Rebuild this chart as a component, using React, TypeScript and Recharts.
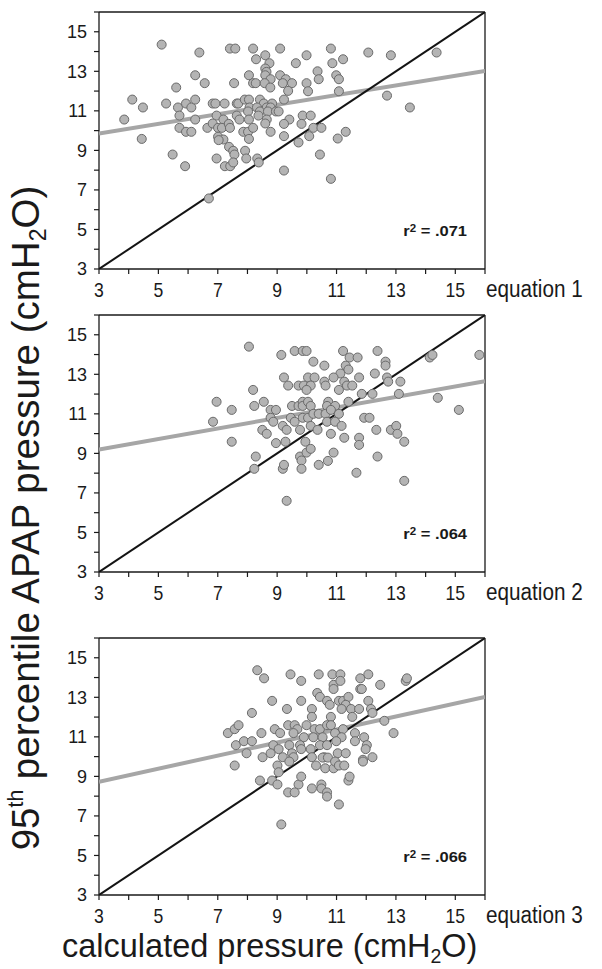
import { Scatter, ScatterChart, XAxis, YAxis } from 'recharts';

// calculated vs 95th percentile APAP pressure, one panel per equation
const AXIS_TICKS = [3, 4, 5, 6, 7, 8, 9, 10, 11, 12, 13, 14, 15, 16];
const AXIS_MIN = 3;
const AXIS_MAX = 16;

const EQ1_POINTS: [number, number][] = [
  [5.11, 14.35], [6.38, 13.95], [7.41, 14.15], [7.59, 14.15], [8.19, 14.15], [9.1, 14.15], [10.81, 14.15],
  [12.07, 13.95], [12.83, 13.81], [14.37, 13.95], [8.6, 13.81], [9.99, 13.81], [8.29, 13.61], [8.74, 13.41],
  [9.63, 13.41], [10.86, 13.41], [11.22, 13.61], [8.6, 13.14], [8.64, 12.97], [6.24, 12.8], [8.05, 12.8],
  [9.1, 12.8], [8.6, 12.8], [10.36, 13.0], [10.99, 12.8], [8.78, 12.6], [9.29, 12.6], [10.4, 12.6],
  [11.08, 12.6], [6.56, 12.4], [7.55, 12.4], [8.19, 12.4], [8.28, 12.4], [8.58, 12.4], [9.19, 12.4],
  [9.5, 12.4], [9.99, 12.4], [8.77, 12.18], [5.6, 12.18], [9.37, 12.01], [10.04, 11.99], [11.08, 11.99],
  [12.7, 11.77], [4.12, 11.57], [4.48, 11.17], [5.26, 11.37], [5.66, 11.17], [5.93, 11.37], [6.11, 11.17],
  [6.24, 11.57], [6.83, 11.37], [6.92, 11.37], [7.23, 11.37], [7.64, 11.37], [7.69, 11.37], [7.91, 11.57],
  [8.05, 11.57], [8.42, 11.57], [8.55, 11.37], [8.83, 11.37], [9.23, 11.57], [8.07, 11.17], [8.32, 11.17],
  [8.65, 11.17], [8.78, 11.17], [8.02, 10.97], [8.42, 10.97], [8.69, 10.97], [8.96, 10.97], [9.05, 10.97],
  [13.47, 11.17], [3.85, 10.56], [5.71, 10.76], [6.24, 10.56], [6.96, 10.76], [7.19, 10.56], [7.64, 10.76],
  [7.73, 10.56], [8.05, 10.56], [8.37, 10.76], [8.65, 10.56], [9.41, 10.56], [9.86, 10.76], [10.13, 10.76],
  [5.71, 10.14], [5.93, 9.94], [6.11, 9.94], [6.65, 10.14], [6.83, 10.36], [7.01, 10.14], [7.14, 10.14],
  [7.37, 10.34], [7.41, 10.14], [7.86, 9.94], [8.02, 9.94], [8.19, 10.14], [8.6, 10.36], [8.78, 9.94],
  [9.23, 10.34], [9.82, 10.34], [10.22, 10.14], [10.49, 10.14], [11.31, 9.94], [4.44, 9.58], [7.01, 9.69],
  [7.19, 9.55], [8.05, 9.58], [9.23, 9.72], [10.08, 9.72], [11.04, 9.6], [7.03, 9.52], [9.72, 9.4],
  [5.48, 8.79], [5.9, 8.2], [6.96, 8.59], [7.38, 9.18], [7.52, 8.98], [7.56, 8.79], [7.24, 8.2],
  [7.42, 8.2], [7.52, 8.39], [7.92, 8.98], [7.96, 8.59], [8.33, 8.59], [8.38, 8.39], [9.23, 7.98],
  [10.44, 8.79], [10.81, 7.56], [6.7, 6.57],
];

const EQ2_POINTS: [number, number][] = [
  [8.05, 14.4], [9.14, 13.98], [9.59, 14.18], [9.86, 14.18], [9.99, 14.18], [11.22, 14.18], [12.38, 14.18],
  [10.22, 13.64], [10.59, 13.44], [11.31, 13.44], [11.44, 13.85], [11.71, 13.85], [12.65, 13.64], [12.65, 13.44],
  [11.4, 13.24], [11.13, 13.04], [14.14, 13.85], [14.23, 13.98], [15.81, 13.98], [9.23, 12.84], [10.04, 12.84],
  [10.26, 12.84], [10.9, 12.84], [11.76, 12.84], [12.29, 13.04], [12.7, 12.84], [9.37, 12.43], [9.72, 12.43],
  [9.9, 12.43], [10.13, 12.43], [9.99, 12.21], [10.59, 12.63], [10.63, 12.43], [11.26, 12.63], [11.35, 12.43],
  [11.53, 12.43], [11.08, 12.21], [12.74, 12.63], [13.15, 12.63], [11.85, 12.01], [12.21, 12.01], [13.1, 12.01],
  [14.41, 11.81], [8.19, 12.21], [6.96, 11.61], [7.47, 11.2], [8.23, 11.4], [8.55, 11.61], [8.78, 11.2],
  [8.96, 11.2], [9.5, 11.4], [9.72, 11.4], [9.86, 11.61], [9.86, 11.4], [10.04, 11.61], [10.13, 11.4],
  [10.72, 11.61], [10.68, 11.4], [10.95, 11.4], [11.4, 11.61], [15.12, 11.2], [6.84, 10.6], [8.78, 10.8],
  [8.87, 10.6], [9.46, 10.8], [9.59, 10.6], [9.86, 10.8], [10.04, 10.8], [10.22, 11.0], [10.4, 11.0],
  [10.63, 11.0], [10.81, 11.2], [11.08, 11.0], [10.68, 10.6], [10.95, 10.6], [11.17, 10.39], [11.93, 10.8],
  [12.11, 10.8], [8.5, 10.19], [8.65, 9.99], [9.19, 10.39], [9.32, 10.19], [9.77, 10.19], [10.13, 10.39],
  [10.36, 10.19], [10.81, 9.99], [11.26, 9.79], [11.76, 9.79], [12.34, 10.19], [12.83, 10.19], [13.01, 10.39],
  [13.05, 9.99], [7.47, 9.59], [8.96, 9.52], [9.28, 9.59], [9.95, 9.59], [13.28, 9.59], [11.76, 9.43],
  [8.28, 8.84], [8.23, 8.22], [9.19, 8.22], [9.23, 8.42], [9.77, 8.84], [9.82, 8.64], [9.82, 8.22],
  [9.99, 9.04], [10.13, 9.23], [10.4, 8.42], [10.71, 8.62], [10.9, 9.04], [11.67, 8.02], [12.38, 8.84],
  [13.28, 7.61], [9.32, 6.6],
];

const EQ3_POINTS: [number, number][] = [
  [8.33, 14.37], [8.56, 13.96], [9.45, 14.16], [9.81, 13.83], [10.4, 14.16], [10.86, 14.16], [11.13, 14.16],
  [10.9, 13.63], [10.9, 13.42], [11.13, 13.83], [11.8, 13.96], [12.07, 14.16], [11.8, 13.42], [11.85, 13.42],
  [12.47, 13.63], [13.33, 13.83], [13.37, 13.96], [10.35, 13.22], [10.44, 13.02], [8.83, 12.82], [9.81, 12.82],
  [10.68, 12.82], [10.77, 12.62], [11.08, 12.82], [11.22, 12.82], [11.4, 13.02], [11.31, 12.62], [11.17, 12.41],
  [12.07, 12.82], [9.33, 12.41], [10.17, 12.41], [11.49, 12.41], [11.76, 12.41], [12.16, 12.41], [12.21, 12.21],
  [11.53, 12.01], [8.15, 12.21], [10.17, 12.01], [10.81, 12.01], [12.61, 11.81], [7.34, 11.19], [7.57, 11.39],
  [7.7, 11.59], [8.47, 11.19], [8.92, 11.39], [9.1, 11.19], [9.37, 11.59], [9.59, 11.59], [9.68, 11.39],
  [9.55, 11.19], [9.99, 11.59], [10.26, 11.39], [10.44, 11.39], [10.68, 11.59], [10.81, 11.59], [10.95, 11.19],
  [11.22, 11.39], [11.62, 11.19], [12.92, 11.19], [9.9, 10.98], [10.22, 10.98], [10.53, 10.98], [11.17, 10.98],
  [11.93, 10.98], [7.61, 10.58], [7.88, 10.78], [8.15, 10.78], [8.87, 10.58], [9.05, 10.38], [9.41, 10.58],
  [9.77, 10.58], [9.81, 10.38], [10.13, 10.38], [10.44, 10.58], [10.68, 10.58], [10.99, 10.78], [11.62, 10.78],
  [12.02, 10.58], [11.98, 10.38], [7.97, 10.17], [8.51, 9.97], [8.78, 10.17], [9.19, 9.97], [9.5, 10.17],
  [9.55, 9.97], [10.17, 9.97], [10.59, 9.97], [11.04, 10.17], [11.31, 10.17], [11.89, 9.84], [12.21, 9.97],
  [7.57, 9.55], [9.01, 9.55], [9.05, 9.21], [9.41, 9.75], [10.31, 9.55], [10.53, 9.95], [10.62, 9.41],
  [10.71, 9.95], [10.9, 9.41], [10.95, 9.75], [11.08, 9.55], [11.26, 9.55], [11.89, 9.75], [8.42, 8.79],
  [8.83, 8.79], [9.01, 8.59], [9.72, 8.59], [9.81, 8.99], [9.37, 8.19], [9.59, 8.19], [10.17, 8.39],
  [10.49, 8.59], [10.49, 8.39], [10.68, 8.19], [10.68, 7.98], [11.08, 7.58], [11.4, 8.79], [11.44, 8.99],
  [9.14, 6.57],
];

// regression line value at x = 3 and x = 16
const EQ1_FIT = [9.85, 13.02];
const EQ2_FIT = [9.2, 12.65];
const EQ3_FIT = [8.73, 13.02];

const EQ1_R2 = '.071';
const EQ2_R2 = '.064';
const EQ3_R2 = '.066';

const FONT = '"Liberation Sans", Arial, Helvetica, sans-serif';
const INK = '#1a1a1a';

const oddLabel = (v: number) => (v % 2 === 1 && v < 16 ? String(v) : '');

function BottomTick(props: any) {
  const { x, y, payload } = props;
  const v = payload.value;
  if (v % 2 === 0 || v > 15) return <g />;
  return (
    <g transform={`translate(${x},${y + 21})`}>
      <text textAnchor="middle" fontSize={20} fill={INK} fontFamily={FONT} transform="scale(0.88,1)">
        {v}
      </text>
    </g>
  );
}

interface PanelProps {
  points: [number, number][];
  fit: number[];
  r2: string;
  label: string;
  top: number;
}

function Panel({ points, fit, r2, label, top }: PanelProps) {
  const data = points.map(([x, y]) => ({ x, y }));
  const identity = [
    { x: AXIS_MIN, y: AXIS_MIN },
    { x: AXIS_MAX, y: AXIS_MAX },
  ];
  const fitLine = [
    { x: AXIS_MIN, y: fit[0] },
    { x: AXIS_MAX, y: fit[1] },
  ];
  const axisLine = { stroke: INK, strokeWidth: 1.3 };
  const tickLine = { stroke: INK, strokeWidth: 1.2 };
  const plotTop = top + 12;

  return (
    <>
      <div style={{ position: 'absolute', left: 0, top }}>
        <ScatterChart width={602} height={300} margin={{ top: 2, right: 107, bottom: 1, left: 0 }}>
          <XAxis
            xAxisId="bottom"
            dataKey="x"
            type="number"
            domain={[AXIS_MIN, AXIS_MAX]}
            ticks={AXIS_TICKS}
            height={30}
            tickSize={5}
            axisLine={axisLine}
            tickLine={tickLine}
            tick={BottomTick}
            allowDataOverflow
          />
          <XAxis
            xAxisId="top"
            orientation="top"
            type="number"
            domain={[AXIS_MIN, AXIS_MAX]}
            ticks={AXIS_TICKS}
            height={10}
            tickSize={5}
            axisLine={axisLine}
            tickLine={tickLine}
            tick={false}
            allowDataOverflow
          />
          <YAxis
            yAxisId="left"
            dataKey="y"
            type="number"
            domain={[AXIS_MIN, AXIS_MAX]}
            ticks={AXIS_TICKS}
            width={99}
            tickSize={5}
            tickMargin={7}
            axisLine={axisLine}
            tickLine={tickLine}
            tick={{ fontSize: 18, fill: INK, fontFamily: FONT }}
            tickFormatter={oddLabel}
            allowDataOverflow
          />
          <YAxis
            yAxisId="right"
            orientation="right"
            type="number"
            domain={[AXIS_MIN, AXIS_MAX]}
            ticks={AXIS_TICKS}
            width={10}
            tickSize={5}
            axisLine={axisLine}
            tickLine={tickLine}
            tick={false}
            allowDataOverflow
          />
          <Scatter
            xAxisId="bottom"
            yAxisId="left"
            data={fitLine}
            stroke="#a6a6a6"
            line={{ stroke: '#a6a6a6', strokeWidth: 4 }}
            shape={() => <g />}
            isAnimationActive={false}
          />
          <Scatter
            xAxisId="bottom"
            yAxisId="left"
            data={identity}
            stroke="#141414"
            line={{ stroke: '#141414', strokeWidth: 2 }}
            shape={() => <g />}
            isAnimationActive={false}
          />
          <Scatter
            xAxisId="bottom"
            yAxisId="left"
            data={data}
            fill="#b4b4b4"
            stroke="#6a6a6a"
            strokeWidth={1}
            isAnimationActive={false}
          />
        </ScatterChart>
      </div>
      <div
        style={{
          position: 'absolute',
          right: 602 - 467,
          top: plotTop + 224 - 12.7,
          fontFamily: FONT,
          fontWeight: 'bold',
          fontSize: 15,
          lineHeight: '15px',
          color: INK,
          whiteSpace: 'nowrap',
          transform: 'scaleX(1.1)',
          transformOrigin: 'right center',
        }}
      >
        r<span style={{ fontSize: '0.7em', position: 'relative', top: '-0.45em' }}>2</span> = {r2}
      </div>
      <div
        style={{
          position: 'absolute',
          left: 486,
          top: plotTop + 257 + 28 - 19.5,
          fontFamily: FONT,
          fontSize: 23,
          lineHeight: '23px',
          color: INK,
          whiteSpace: 'nowrap',
          transform: 'scaleX(0.9)',
          transformOrigin: 'left center',
        }}
      >
        {label}
      </div>
    </>
  );
}

export default function App() {
  return (
    <div style={{ position: 'absolute', left: 0, top: 0, width: 602, height: 969, background: '#fff', overflow: 'hidden' }}>
      <Panel points={EQ1_POINTS} fit={EQ1_FIT} r2={EQ1_R2} label="equation 1" top={0} />
      <Panel points={EQ2_POINTS} fit={EQ2_FIT} r2={EQ2_R2} label="equation 2" top={303} />
      <Panel points={EQ3_POINTS} fit={EQ3_FIT} r2={EQ3_R2} label="equation 3" top={626} />
      <div
        style={{
          position: 'absolute',
          left: 29 - 450,
          top: 515 - 20,
          width: 900,
          textAlign: 'center',
          fontFamily: FONT,
          fontSize: 38.5,
          lineHeight: '40px',
          color: INK,
          whiteSpace: 'nowrap',
          transform: 'rotate(-90deg)',
          transformOrigin: 'center center',
        }}
      >
        95<span style={{ fontSize: '0.55em', position: 'relative', top: '-0.75em' }}>th</span> percentile APAP pressure
        (cmH<span style={{ fontSize: '0.6em', position: 'relative', top: '0.3em' }}>2</span>O)
      </div>
      <div
        style={{
          position: 'absolute',
          left: 62,
          top: 930,
          fontFamily: FONT,
          fontSize: 32.5,
          lineHeight: '32px',
          color: INK,
          whiteSpace: 'nowrap',
        }}
      >
        calculated pressure (cmH<span style={{ fontSize: '0.6em', position: 'relative', top: '0.3em' }}>2</span>O)
      </div>
    </div>
  );
}
